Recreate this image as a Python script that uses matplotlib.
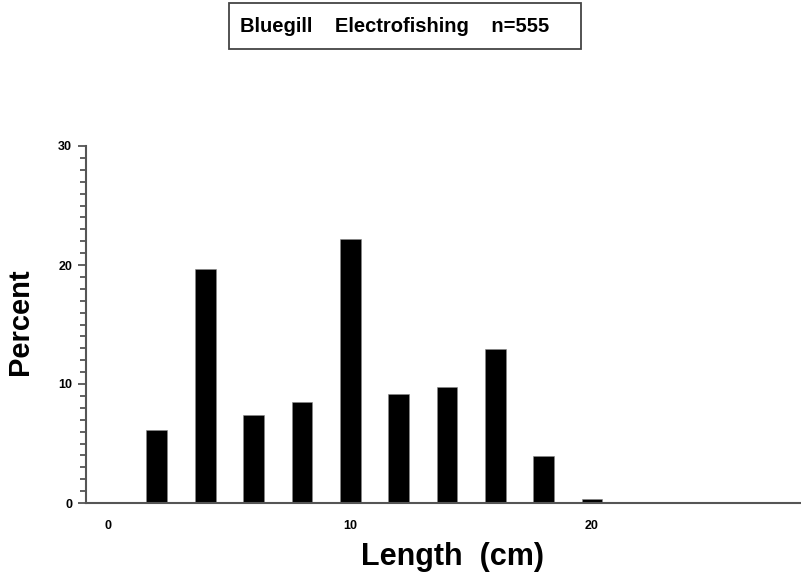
import matplotlib
matplotlib.use('Agg')
import matplotlib.pyplot as plt
from matplotlib.patches import Rectangle
from matplotlib.ticker import MultipleLocator

# percent of fish by length class (n = 555)
length_cm = [2, 4, 6, 8, 10, 12, 14, 16, 18, 20]
percent = [6.13, 19.64, 7.39, 8.47, 22.16, 9.19, 9.73, 12.97, 3.96, 0.36]
x_ticks = [0, 10, 20]
y_ticks = [0, 10, 20, 30]
title_text = 'Bluegill    Electrofishing    n=555'

plt.rcParams['font.family'] = ['Liberation Sans', 'DejaVu Sans']
plt.rcParams['font.weight'] = 'bold'

fig = plt.figure(figsize=(8.01, 5.81), dpi=100, facecolor='white')
ax = fig.add_axes([86 / 801, 1 - 503 / 581, 714 / 801, (503 - 146) / 581])

ax.bar(length_cm, percent, width=0.86, color='black', edgecolor='#888888', linewidth=0.4)

ax.set_xlim(-0.93, 28.6)
ax.set_ylim(0, 30)
ax.set_xticks(x_ticks)
ax.set_yticks(y_ticks)
ax.yaxis.set_minor_locator(MultipleLocator(1))
ax.tick_params(axis='x', length=0, pad=12, labelsize=9)
ax.tick_params(axis='y', which='major', length=6, width=1.3, color='#555555', pad=4, labelsize=9)
ax.tick_params(axis='y', which='minor', length=4, width=1.3, color='#555555')
for lab in ax.get_xticklabels() + ax.get_yticklabels():
    lab.set_fontweight('bold')

for side in ['top', 'right']:
    ax.spines[side].set_visible(False)
for side in ['left', 'bottom']:
    ax.spines[side].set_color('#555555')
    ax.spines[side].set_linewidth(1.5)

fig.text(20 / 801, 1 - 322 / 581, 'Percent', rotation=90, fontsize=21, fontweight='bold',
         ha='center', va='center')
fig.text(452 / 801, 1 - 557 / 581, 'Length  (cm)', fontsize=22, fontweight='bold',
         ha='center', va='center')

# title box
fig.patches.append(Rectangle((229 / 801, 1 - 49 / 581), (581 - 229) / 801, 46 / 581,
                             transform=fig.transFigure, fill=False, edgecolor='#444444',
                             linewidth=1.3))
fig.text(395 / 801, 1 - 27 / 581, title_text, fontsize=14.5, fontweight='bold',
         ha='center', va='center')

plt.savefig('out.png', dpi=100, facecolor=fig.get_facecolor())
